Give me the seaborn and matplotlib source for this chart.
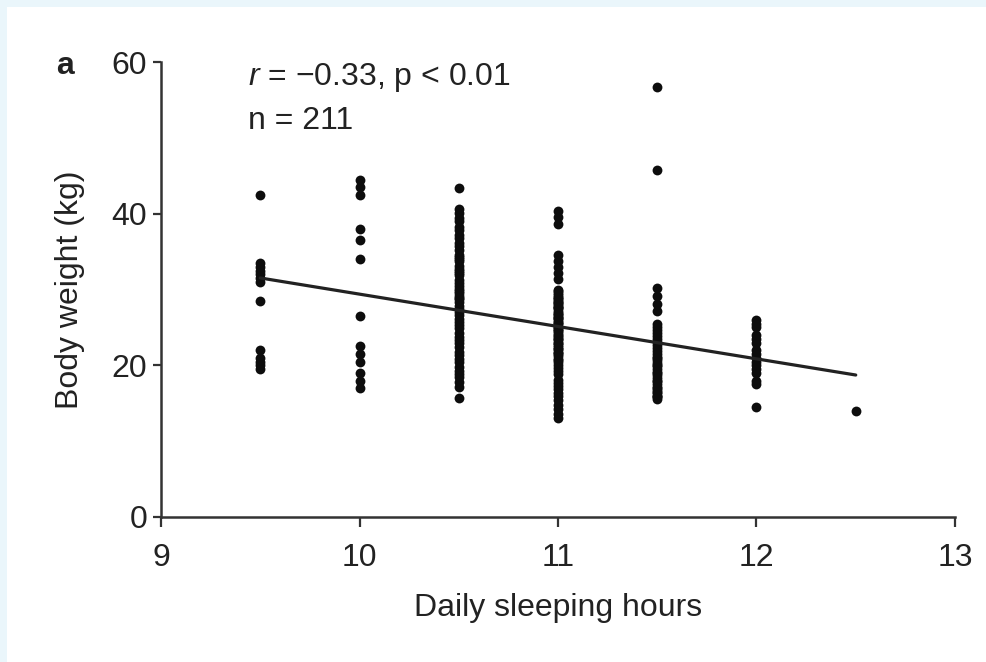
import matplotlib
matplotlib.use("Agg")
import matplotlib.pyplot as plt
import matplotlib.patches as mpatches
import seaborn as sns
import pandas as pd

# Body weight (kg) of each child, grouped by reported daily sleeping hours
weights_9_5 = [42.5, 33.5, 33.0, 32.5, 32.0, 31.5, 31.0, 28.5, 22.0, 21.0, 20.5, 20.0, 19.5]
weights_10_0 = [44.5, 43.5, 42.5, 38.0, 36.5, 34.0, 26.5, 22.5, 21.5, 20.5, 19.0, 18.0, 17.0]
weights_10_5 = [43.4, 40.6, 40.1, 39.4, 39.0, 38.3, 37.9, 37.2, 36.8, 36.1, 35.7, 35.2,
                34.6, 34.3, 33.8, 33.1, 32.7, 32.4, 31.9, 31.3, 30.8, 30.5, 30.1, 29.6,
                29.2, 28.7, 28.3, 27.8, 27.4, 27.0, 26.6, 26.1, 25.7, 25.3, 24.9, 24.2,
                23.8, 23.3, 22.9, 22.4, 21.8, 21.3, 20.9, 20.4, 29.8, 19.3, 28.9, 18.4,
                17.8, 17.2, 15.7, 18.9, 19.8, 34.0, 32.2]
weights_11_0 = [40.4, 39.6, 38.6, 34.6, 33.7, 33.0, 32.2, 31.4,
                30.0, 29.6, 29.3, 29.0, 28.7, 28.4, 28.1, 27.8, 27.5, 27.2,
                26.9, 26.6, 26.3, 26.0, 25.7, 25.4, 25.1, 24.8, 24.5, 24.2,
                23.9, 23.6, 23.3, 23.0, 22.7, 22.4, 22.1, 21.8, 21.5, 21.2,
                20.9, 20.5, 20.1, 19.7, 19.3, 18.9, 28.5, 18.1, 27.7, 17.3,
                16.9, 26.4, 15.9, 15.4, 14.8, 14.2, 13.6, 13.0,
                29.8, 28.9, 28.2, 27.6, 26.8, 26.2, 25.6, 25.0, 24.6, 24.0,
                23.5, 22.9, 22.2, 21.6, 20.7, 17.7, 16.4]
weights_11_5 = [56.7, 45.8, 30.2, 29.1, 28.1, 27.1,
                25.4, 25.0, 24.6, 24.2, 23.9, 23.5, 23.1, 22.7, 22.3, 21.9,
                21.5, 21.1, 20.7, 20.3, 19.9, 19.5, 19.1, 18.7, 18.3, 17.9,
                17.5, 17.1, 16.7, 16.3, 15.9, 15.5,
                16.5, 15.8, 20.0, 19.0, 18.0, 17.0, 16.0, 21.0]
weights_12_0 = [26.0, 25.5, 25.0, 24.0, 23.5, 23.0, 22.0, 21.5, 21.0, 20.5,
                20.0, 19.5, 19.0, 18.0, 17.5, 14.5]
weights_12_5 = [14.0]

sleep_hours = [9.5, 10.0, 10.5, 11.0, 11.5, 12.0, 12.5]
weight_groups = [weights_9_5, weights_10_0, weights_10_5, weights_11_0,
                 weights_11_5, weights_12_0, weights_12_5]

x_ticks = [9, 10, 11, 12, 13]
y_ticks = [0, 20, 40, 60]
stat_text = "= \u22120.33, p < 0.01"
n_text = "n = 211"

rows = []
for h, group in zip(sleep_hours, weight_groups):
    for w in group:
        rows.append({"hours": h, "weight": w})
df = pd.DataFrame(rows)

sns.set_style("ticks")
plt.rcParams["font.family"] = ["Liberation Sans", "DejaVu Sans"]
plt.rcParams["mathtext.fontset"] = "custom"
plt.rcParams["mathtext.it"] = "Liberation Sans:italic"
plt.rcParams["mathtext.rm"] = "Liberation Sans"

ink = "#222222"
fs = 23
fig = plt.figure(figsize=(9.87, 6.62), dpi=100, facecolor="#eaf6fb")
# white page inside a thin pale-blue margin on the left and top
fig.add_artist(mpatches.Rectangle((7 / 987, 0), 1, 1 - 7 / 662,
                                  transform=fig.transFigure,
                                  facecolor="white", edgecolor="none",
                                  zorder=-10))
ax = fig.add_axes([161 / 987, 1 - 517 / 662, (955 - 161) / 987, (517 - 62) / 662])
ax.set_facecolor("none")
ax.set_zorder(1)

sns.regplot(data=df, x="hours", y="weight", ci=None, truncate=True, ax=ax,
            scatter_kws=dict(s=50, color="#0d0d0d", alpha=1, linewidths=0, clip_on=False),
            line_kws=dict(color="#222222", linewidth=2.3))

ax.set_xlim(9, 13)
ax.set_ylim(0, 60)
ax.set_xticks(x_ticks)
ax.set_yticks(y_ticks)
sns.despine(ax=ax)
for side in ("left", "bottom"):
    ax.spines[side].set_linewidth(1.8)
    ax.spines[side].set_color("#333333")
ax.tick_params(axis="x", direction="out", length=7, width=1.6, colors="#333333",
               labelcolor=ink, labelsize=fs, pad=12)
ax.tick_params(axis="y", direction="out", length=6, width=1.6, colors="#333333",
               labelcolor=ink, labelsize=fs, pad=4)

ax.set_xlabel("Daily sleeping hours", fontsize=fs, color=ink, labelpad=14)
ax.set_ylabel("Body weight (kg)", fontsize=fs, color=ink, labelpad=19)

ax.text(9.44, 58.0, r"$\it{r}$ " + stat_text, fontsize=fs, color=ink, va="center", ha="left")
ax.text(9.44, 52.2, n_text, fontsize=fs, color=ink, va="center", ha="left")
fig.text(65 / 987, 1 - 66 / 662, "a", fontsize=fs, fontweight="bold", color=ink,
         ha="center", va="center")

fig.savefig("out.png", dpi=100, facecolor=fig.get_facecolor())
